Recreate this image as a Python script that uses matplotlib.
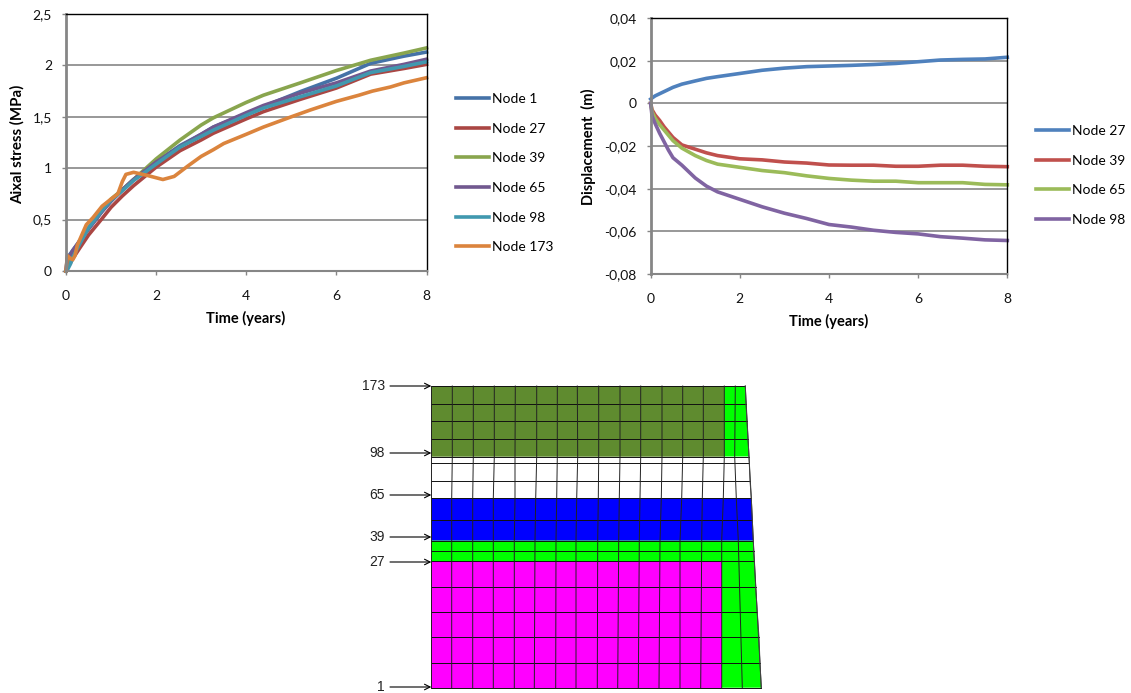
import matplotlib
matplotlib.use('Agg')
import matplotlib.pyplot as plt
from matplotlib.patches import Polygon

W, H = 1131, 693

# Axial stress
stress_time = [0, 0.03, 0.1, 0.15, 0.3, 0.5, 0.8, 1, 1.25, 1.5, 2, 2.53, 3, 3.27, 4, 4.38, 5.2, 6, 6.76, 7.5, 8]
node1 = [0, 0.13, 0.17, 0.20, 0.29, 0.41, 0.58, 0.68, 0.79, 0.89, 1.06, 1.22, 1.33, 1.40, 1.53, 1.60, 1.745, 1.875, 2.02, 2.09, 2.13]
node27 = [0, 0.03, 0.08, 0.12, 0.22, 0.35, 0.51, 0.62, 0.73, 0.83, 1.01, 1.17, 1.275, 1.34, 1.48, 1.55, 1.67, 1.78, 1.915, 1.97, 2.01]
node39 = [0, 0.05, 0.10, 0.15, 0.28, 0.42, 0.60, 0.70, 0.79, 0.89, 1.09, 1.274, 1.42, 1.49, 1.64, 1.71, 1.83, 1.95, 2.05, 2.12, 2.17]
node65 = [0, 0.12, 0.16, 0.20, 0.29, 0.41, 0.58, 0.68, 0.79, 0.89, 1.06, 1.21, 1.33, 1.40, 1.54, 1.61, 1.73, 1.83, 1.945, 2.01, 2.06]
node98 = [0, 0.01, 0.07, 0.13, 0.26, 0.42, 0.59, 0.69, 0.78, 0.88, 1.04, 1.206, 1.31, 1.37, 1.515, 1.585, 1.695, 1.80, 1.93, 1.99, 2.035]
time173 = [0, 0.03, 0.1, 0.15, 0.2, 0.25, 0.35, 0.45, 0.6, 0.8, 1, 1.15, 1.25, 1.33, 1.5, 1.8, 2.15,
           2.4, 2.7, 3, 3.27, 3.5, 4, 4.38, 5, 5.42, 6, 6.5, 6.8, 7.2, 7.5, 8]
node173 = [0, 0.15, 0.12, 0.11, 0.15, 0.25, 0.35, 0.45, 0.52, 0.63, 0.70, 0.75, 0.87, 0.94, 0.96, 0.93, 0.89,
           0.92, 1.02, 1.115, 1.18, 1.24, 1.33, 1.40, 1.50, 1.566, 1.65, 1.71, 1.75, 1.79, 1.83, 1.88]

# Displacement
disp_time = [0, 0.03, 0.1, 0.2, 0.3, 0.4, 0.5, 0.7, 1, 1.25, 1.5, 2, 2.5, 3, 3.5, 4, 4.5, 5, 5.5, 6, 6.5, 7, 7.5, 8]
disp27 = [0.002, 0.0025, 0.0035, 0.0045, 0.0055, 0.0065, 0.0075, 0.009, 0.0105, 0.0117, 0.0125, 0.014, 0.0155, 0.0165, 0.0172,
          0.0175, 0.0178, 0.0182, 0.0187, 0.0195, 0.0203, 0.0206, 0.0208, 0.0216]
disp39 = [0, -0.003, -0.0055, -0.008, -0.011, -0.0135, -0.016, -0.0195, -0.0215, -0.0232, -0.0245, -0.026, -0.0265, -0.0275, -0.028,
          -0.0289, -0.029, -0.029, -0.0295, -0.0295, -0.029, -0.029, -0.0295, -0.0297]
disp65 = [0, -0.004, -0.007, -0.01, -0.0125, -0.015, -0.0175, -0.021, -0.0245, -0.0268, -0.0285, -0.03, -0.0315, -0.0325, -0.034,
          -0.0352, -0.036, -0.0365, -0.0365, -0.0372, -0.0372, -0.0372, -0.038, -0.0382]
disp98 = [0, -0.006, -0.0095, -0.014, -0.018, -0.022, -0.0255, -0.029, -0.035, -0.0388, -0.0415, -0.045, -0.0485, -0.0515, -0.054,
          -0.0568, -0.058, -0.0595, -0.0605, -0.0612, -0.0625, -0.0632, -0.064, -0.0643]

x_ticks = [0, 2, 4, 6, 8]
stress_ticks = [0, 0.5, 1, 1.5, 2, 2.5]
stress_labels = ['0', '0,5', '1', '1,5', '2', '2,5']
disp_ticks = [-0.08, -0.06, -0.04, -0.02, 0, 0.02, 0.04]
disp_labels = ['-0,08', '-0,06', '-0,04', '-0,02', '0', '0,02', '0,04']

# Mesh drawing, in picture pixels
row_y = [386, 404.3, 421.3, 439, 456.7, 463.3, 480.7, 498.3, 519.7, 540.7, 551, 561.3, 587.3, 612.3, 637.3, 662.7, 687.7]
right_x = [745.3, 746, 747, 748, 749, 749.3, 750, 751.3, 752.3, 753.3, 753.7, 754.3, 755.7, 757.3, 759, 760, 761.3]
left_x = 431.3
key_y = [386, 456.7, 498.3, 540.7, 687.7]
key_cols = [
    [431.3, 452.3, 473.3, 494.3, 515.3, 536.7, 557.3, 577.3, 598.7, 620, 640.7, 662, 682.7, 703.3, 724.3, 735.3, 745.3],
    [431.3, 452.3, 473.3, 494.3, 515, 536.7, 557.3, 577.7, 598.7, 620, 640.7, 662, 682.7, 703.3, 724.3, 734.7, 749],
    [431.3, 451.7, 472.7, 493.3, 515, 535.7, 556.7, 576.7, 598.3, 619.3, 640, 661.3, 681.7, 702.3, 723.3, 736.3, 751.3],
    [431.3, 451.7, 472.7, 493.3, 514.3, 535, 556, 576, 597.7, 618.7, 639.3, 660, 680, 701.7, 721.7, 738.3, 753.3],
    [431.3, 451.7, 472.7, 493.3, 514.3, 534.3, 555.7, 576, 597.3, 617.7, 638.3, 659, 680, 700.7, 721.7, 742.3, 761.3],
]
node_names = ['173', '98', '65', '39', '27', '1']
node_y = [386, 453, 495, 537, 562, 687]

plt.rcParams['font.family'] = ['Lato', 'DejaVu Sans']
plt.rcParams['font.size'] = 10

fig = plt.figure(figsize=(W / 100, H / 100), dpi=100)


def pixel_axes(x0, x1, y_top, y_bottom):
    return fig.add_axes([x0 / W, 1 - y_bottom / H, (x1 - x0) / W, (y_bottom - y_top) / H])


def style_chart(ax, yticks, ylabels, ylim):
    ax.set_xlim(0, 8)
    ax.set_ylim(*ylim)
    ax.set_xticks(x_ticks)
    ax.set_yticks(yticks)
    ax.set_yticklabels(ylabels)
    ax.yaxis.grid(True, color='#868686', lw=1.2)
    ax.set_axisbelow(True)
    ax.tick_params(length=3, width=1, color='#868686', labelsize=10, labelcolor='#111111')
    ax.tick_params(axis='y', pad=7)
    ax.tick_params(axis='x', pad=11)
    ax.spines['left'].set(color='#868686', lw=2)
    ax.spines['bottom'].set(color='#868686', lw=1.5)
    ax.spines['top'].set(color='black', lw=1)
    ax.spines['right'].set(color='black', lw=1)


# Left chart
ax1 = pixel_axes(66, 426.5, 14, 271)
ax1.plot(stress_time, node1, color='#4572A7', lw=2.6, label='Node 1', clip_on=False)
ax1.plot(stress_time, node27, color='#AA4643', lw=2.6, label='Node 27', clip_on=False)
ax1.plot(stress_time, node39, color='#89A54E', lw=2.6, label='Node 39', clip_on=False)
ax1.plot(stress_time, node65, color='#71588F', lw=2.6, label='Node 65', clip_on=False)
ax1.plot(stress_time, node98, color='#4198AF', lw=2.6, label='Node 98', clip_on=False)
ax1.plot(time173, node173, color='#DB843D', lw=2.6, label='Node 173', clip_on=False)
style_chart(ax1, stress_ticks, stress_labels, (0, 2.5))
ax1.legend(loc='upper left', bbox_to_anchor=((456 - 66) / 360.5, 1 - (93 - 14) / 257), frameon=False,
           handlelength=2.4, handletextpad=0.2, labelspacing=1.27, fontsize=10, borderaxespad=0, borderpad=0)
fig.text(17 / W, 1 - 144 / H, 'Aixal stress (MPa)', rotation=90, fontsize=10.8, fontweight='bold', ha='center', va='center')
fig.text(246 / W, 1 - 318 / H, 'Time (years)', fontsize=10.5, fontweight='bold', ha='center', va='center')

# Right chart
ax2 = pixel_axes(650.7, 1007.3, 18, 274)
ax2.plot(disp_time, disp27, color='#4F81BD', lw=2.6, label='Node 27', clip_on=False)
ax2.plot(disp_time, disp39, color='#C0504D', lw=2.6, label='Node 39', clip_on=False)
ax2.plot(disp_time, disp65, color='#9BBB59', lw=2.6, label='Node 65', clip_on=False)
ax2.plot(disp_time, disp98, color='#8064A2', lw=2.6, label='Node 98', clip_on=False)
style_chart(ax2, disp_ticks, disp_labels, (-0.08, 0.04))
ax2.legend(loc='upper left', bbox_to_anchor=((1036 - 650.7) / 356.6, 1 - (125 - 18) / 256), frameon=False,
           handlelength=2.4, handletextpad=0.2, labelspacing=1.27, fontsize=10, borderaxespad=0, borderpad=0)
fig.text(588 / W, 1 - 147 / H, 'Displacement  (m)', rotation=90, fontsize=10.5, fontweight='bold', ha='center', va='center')
fig.text(829 / W, 1 - 321 / H, 'Time (years)', fontsize=10.5, fontweight='bold', ha='center', va='center')

# Mesh: a transparent axes in picture pixels
mesh = fig.add_axes([0, 0, 1, 1])
mesh.set_xlim(0, W)
mesh.set_ylim(H, 0)
mesh.axis('off')
mesh.patch.set_alpha(0)

olive, bright, blue, magenta = '#5F8B2F', '#00FF00', '#0000FF', '#FF00FF'
bands = [
    (0, 4, olive, key_cols[0][14]),
    (4, 7, 'white', None),
    (7, 9, blue, None),
    (9, 11, bright, None),
    (11, 16, magenta, key_cols[3][14]),
]
for i0, i1, colour, split in bands:
    y0, y1 = row_y[i0], row_y[i1]
    x0, x1 = right_x[i0], right_x[i1]
    mesh.add_patch(Polygon([(left_x, y0), (x0, y0), (x1, y1), (left_x, y1)], fc=bright if split else colour, ec='none'))
    if split:
        mesh.add_patch(Polygon([(left_x, y0), (split, y0), (split, y1), (left_x, y1)], fc=colour, ec='none'))

for y, xr in zip(row_y, right_x):
    mesh.plot([left_x, xr], [y, y], color='#111111', lw=0.7)
for c in range(17):
    mesh.plot([col[c] for col in key_cols], key_y, color='#222222', lw=0.7)
mesh.plot(right_x, row_y, color='#444444', lw=0.7)

for name, y in zip(node_names, node_y):
    mesh.text(385, y, name, ha='right', va='center', fontsize=10, family='Liberation Sans', color='#222222')
    mesh.annotate('', xy=(left_x, y), xytext=(390, y),
                  arrowprops=dict(arrowstyle='->', color='black', lw=0.8, shrinkA=0, shrinkB=0))

fig.savefig('out.png', dpi=100)
